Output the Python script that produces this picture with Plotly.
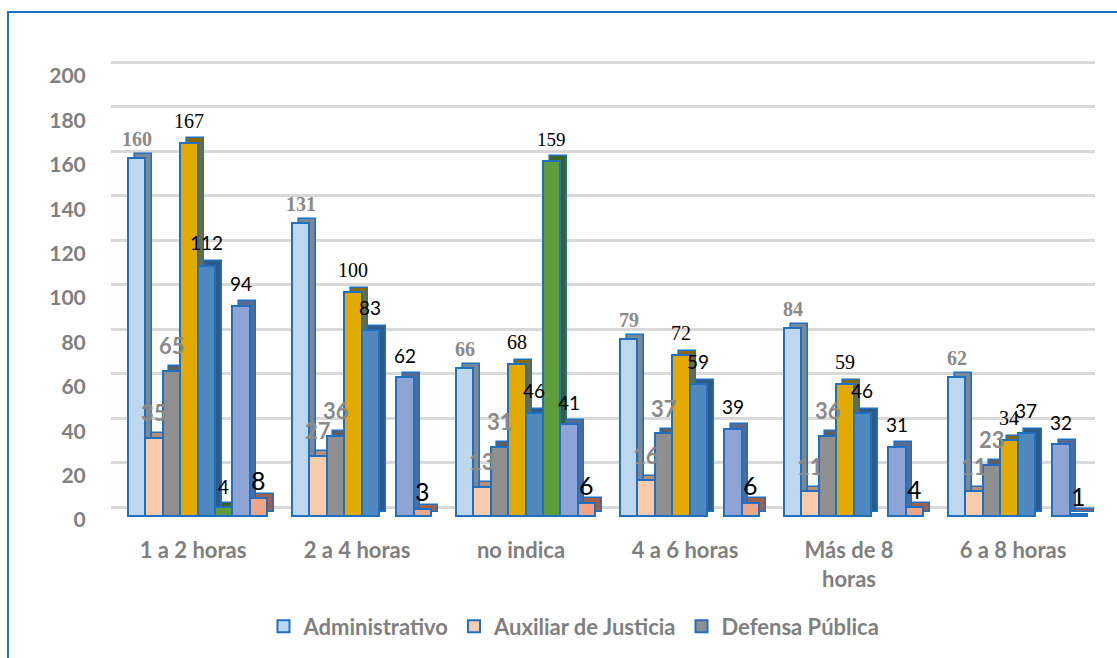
import plotly.graph_objects as go

categories = ["1 a 2 horas", "2 a 4 horas", "no indica", "4 a 6 horas", "Más de 8<br>horas", "6 a 8 horas"]

administrativo = [160, 131, 66, 79, 84, 62]
auxiliar_justicia = [35, 27, 13, 16, 11, 11]
defensa_publica = [65, 36, 31, 37, 36, 23]
serie_4 = [167, 100, 68, 72, 59, 34]
serie_5 = [112, 83, 46, 59, 46, 37]
serie_6 = [4, None, 159, None, None, None]
serie_7 = [94, 62, 41, 39, 31, 32]
serie_8 = [8, 3, 6, 6, 4, 1]

y_ticks = [0, 20, 40, 60, 80, 100, 120, 140, 160, 180, 200]

SANS = "Lato"
SERIF = "Liberation Serif"
GRAY = "#8a8a8a"
AXGRAY = "#7f7f7f"

series = [
    dict(name="Administrativo", v=administrativo, c="#BDD7EE", side="#7d8896", legend=True,
         font=SERIF, size=20, bold=True, color=GRAY, shift=19),
    dict(name="Auxiliar de Justicia", v=auxiliar_justicia, c="#F8CBAD", side="#b88f75", legend=True,
         font=SANS, size=22, bold=True, color=GRAY, shift=25),
    dict(name="Defensa Pública", v=defensa_publica, c="#8F8F8F", side="#5e5e5e", legend=True,
         font=SANS, size=22, bold=True, color=GRAY, shift=25),
    dict(name="Serie 4", v=serie_4, c="#E2AA00", side="#8a6a00", legend=False,
         font=SERIF, size=20, bold=False, color="#000000", shift=22),
    dict(name="Serie 5", v=serie_5, c="#4F87BF", side="#2e5a85", legend=False,
         font=SANS, size=19, bold=False, color="#000000", shift=23),
    dict(name="Serie 6", v=serie_6, c="#5F9D3C", side="#3b6127", legend=False,
         font=[SANS, None, SERIF, None, None, None], size=19, bold=False, color="#000000", shift=21),
    dict(name="Serie 7", v=serie_7, c="#8EA3D6", side="#5a6a8f", legend=False,
         font=SANS, size=19, bold=False, color="#000000", shift=22),
    dict(name="Serie 8", v=serie_8, c="#F0A488", side="#a0604a", legend=False,
         font=SANS, size=25, bold=False, color="#000000", shift=18),
]

OUTLINE = "#1F70C1"
w = 0.106
start = -0.396
dx = 0.04
dy = 2.0

fig = go.Figure()
positions = []
for k, s in enumerate(series):
    xs, ys = [], []
    for i, v in enumerate(s["v"]):
        if v is None:
            continue
        xs.append(i + start + (k + 0.5) * w)
        ys.append(v)
    positions.append((xs, ys))

# depth (side/top) faces
for k, s in enumerate(series):
    xs, ys = positions[k]
    fig.add_trace(go.Bar(
        x=[x + dx for x in xs], y=ys, base=dy, width=w,
        marker=dict(color=s["side"], line=dict(color=OUTLINE, width=1.6)),
        showlegend=False, hoverinfo="skip", yaxis="y"))

# front faces
for k, s in enumerate(series):
    xs, ys = positions[k]
    fig.add_trace(go.Bar(
        x=xs, y=ys, width=w, name=f"<b>{s['name']}</b>",
        marker=dict(color=s["c"], line=dict(color=OUTLINE, width=2)),
        showlegend=s["legend"], yaxis="y"))

annotations = []
for k, s in enumerate(series):
    for i, v in enumerate(s["v"]):
        if v is None:
            continue
        fam = s["font"][i] if isinstance(s["font"], list) else s["font"]
        txt = f"<b>{v}</b>" if s["bold"] else str(v)
        annotations.append(dict(
            x=i + start + (k + 0.5) * w, y=v, xref="x", yref="y",
            text=txt, showarrow=False, yanchor="middle", xanchor="center",
            yshift=s["shift"],
            font=dict(family=fam, size=s["size"], color=s["color"])))

fig.update_layout(
    width=1117, height=658,
    margin=dict(l=111, r=22, t=58, b=134),
    paper_bgcolor="white", plot_bgcolor="white",
    barmode="overlay",
    bargap=0,
    annotations=annotations,
    xaxis=dict(
        range=[-0.5, 5.5], tickmode="array", tickvals=list(range(len(categories))),
        ticktext=[f"<b>{c}</b>" for c in categories], showgrid=False, zeroline=False, showline=False,
        ticks="outside", ticklen=8, tickcolor="rgba(0,0,0,0)", automargin=False,
        tickfont=dict(family=SANS, size=22, color=AXGRAY),
    ),
    # axis carrying the bars
    yaxis=dict(
        range=[-3.125, 204.9], showgrid=False, zeroline=False, showline=False,
        showticklabels=False, automargin=False,
    ),
    # axis drawing the back-wall gridlines
    yaxis2=dict(
        overlaying="y", range=[-7.175, 201.8], tickmode="array", tickvals=y_ticks,
        showgrid=True, gridcolor="#d9d9d9", gridwidth=2.5,
        showticklabels=False, zeroline=False, showline=False, automargin=False,
    ),
    # axis carrying the tick labels
    yaxis3=dict(
        overlaying="y", side="left", range=[-1.348, 208.09], tickmode="array", tickvals=y_ticks,
        ticktext=[f"<b>{t}</b>" for t in y_ticks],
        showgrid=False, zeroline=False, showline=False, automargin=False,
        ticks="outside", ticklen=20, tickcolor="rgba(0,0,0,0)",
        tickfont=dict(family=SANS, size=21, color=AXGRAY),
    ),
    legend=dict(
        orientation="h", x=0.4705, xanchor="center", y=-0.22, yanchor="middle",
        font=dict(family=SANS, size=22, color=AXGRAY),
        traceorder="normal",
    ),
    shapes=[dict(
        type="rect", xref="paper", yref="paper",
        x0=-0.1047, x1=1.0305, y0=-0.30, y1=1.0987,
        line=dict(color=OUTLINE, width=2), fillcolor="rgba(0,0,0,0)", layer="above")],
)

# invisible helpers so the grid and label axes are rendered
fig.add_trace(go.Scatter(x=[0], y=[0], yaxis="y2", mode="markers",
                         marker=dict(opacity=0), showlegend=False, hoverinfo="skip"))
fig.add_trace(go.Scatter(x=[0], y=[0], yaxis="y3", mode="markers",
                         marker=dict(opacity=0), showlegend=False, hoverinfo="skip"))

fig.write_html("out.html", config={"displayModeBar": False},
               post_script="document.body.style.margin='0';")
